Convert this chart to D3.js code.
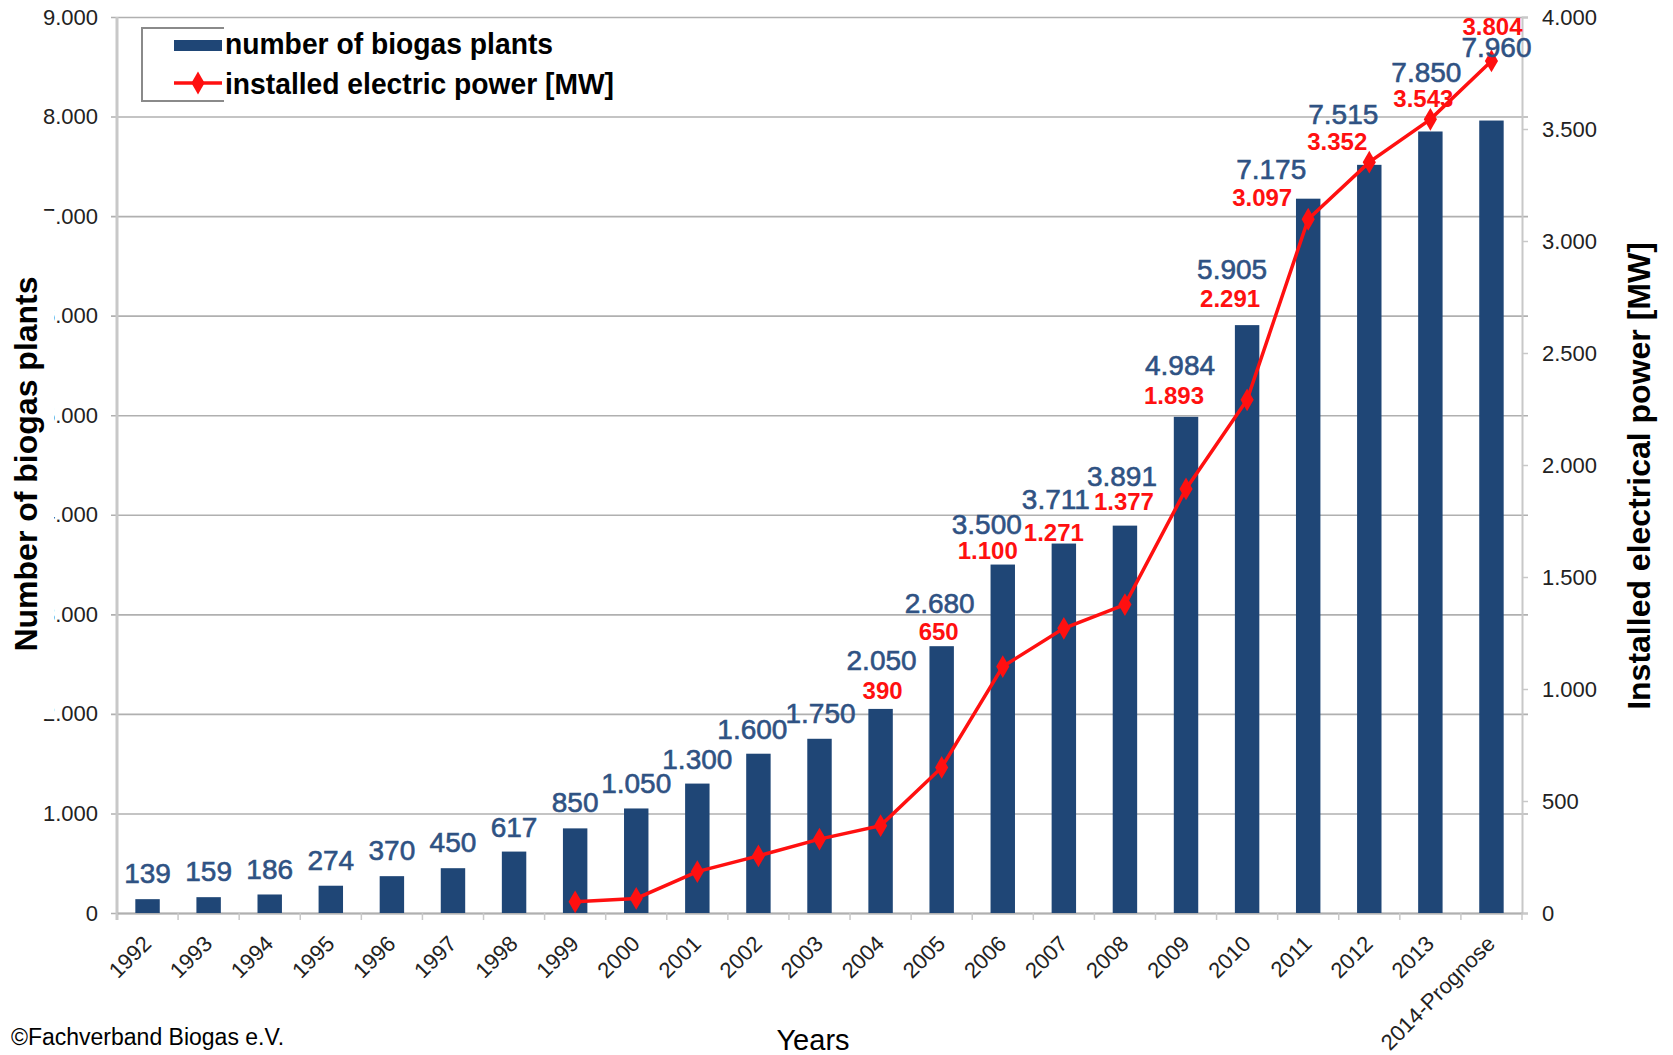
<!DOCTYPE html>
<html>
<head>
<meta charset="utf-8">
<script src="https://cdn.jsdelivr.net/npm/d3@7"></script>
<style>
  body { margin: 0; background: #fff; }
  svg text { font-family: "Liberation Sans", Arial, sans-serif; }
</style>
</head>
<body>
<div id="chart"></div>
<script>
// chart data
var years = ["1992", "1993", "1994", "1995", "1996", "1997", "1998", "1999", "2000", "2001", "2002",
  "2003", "2004", "2005", "2006", "2007", "2008", "2009", "2010", "2011", "2012", "2013", "2014-Prognose"];
var plants = [139, 159, 186, 274, 370, 450, 617, 850, 1050, 1300, 1600,
  1750, 2050, 2680, 3500, 3711, 3891, 4984, 5905, 7175, 7515, 7850, 7960];
var powerYears = ["1999", "2000", "2001", "2002", "2003", "2004", "2005", "2006", "2007", "2008",
  "2009", "2010", "2011", "2012", "2013", "2014-Prognose"];
var power = [50, 65, 185, 255, 330, 390, 650, 1100, 1271, 1377, 1893, 2291, 3097, 3352, 3543, 3804];
// only these power values carry a label
var powerLabelYears = ["2004", "2005", "2006", "2007", "2008", "2009", "2010", "2011", "2012", "2013", "2014-Prognose"];
var leftTicks = [0, 1000, 2000, 3000, 4000, 5000, 6000, 7000, 8000, 9000];
var rightTicks = [0, 500, 1000, 1500, 2000, 2500, 3000, 3500, 4000];

// hand placed label nudges [dx, dy above bar top], like the excel original
var plantLabelShift = [[0, 26], [0, 26], [0, 26], [0, 26], [0, 26], [0, 26], [0, 25], [0, 26], [0, 26], [0, 25], [-6, 25],
  [1, 26], [1, 49], [-2, 43], [-16, 41], [-8, 45], [-3, 50], [-6, 52], [-15, 56], [-37, 30], [-26, 51], [-4, 60], [5, 74]];
var powerLabelShift = [[2, 19], [-3, 15], [-15, 14], [-10, 11], [-1, 24], [-12, 21], [-17, 27], [-46, 1], [-32, 23], [-7, 33], [1, 94]];

var svgWidth = 1673;
var svgHeight = 1055;
var plot = { left: 117, right: 1522, top: 17, bottom: 913 };

var blue = "#1f4676";
var labelBlue = "#2f5283";
var red = "#ff1010";
var grid = "#b0b0b0";

var de = d3.formatLocale({ decimal: ",", thousands: ".", grouping: [3], currency: ["", " €"] });
var fmt = de.format(",d");

var svg = d3.select("#chart")
  .append("svg")
  .attr("width", svgWidth)
  .attr("height", svgHeight);

var xScale = d3.scaleBand()
  .domain(years)
  .range([plot.left, plot.right])
  .paddingInner(0.6)
  .paddingOuter(0.3);

var yLeft = d3.scaleLinear().domain([0, 9000]).range([plot.bottom, plot.top]);
var yRight = d3.scaleLinear().domain([0, 4000]).range([plot.bottom, plot.top]);

var cx = function(year) { return xScale(year) + xScale.bandwidth() / 2; };

// gridlines + left axis
var leftAxis = d3.axisLeft(yLeft)
  .tickValues(leftTicks)
  .tickSize(-(plot.right - plot.left + 6))
  .tickPadding(14)
  .tickFormat(fmt);

var gLeft = svg.append("g")
  .attr("transform", `translate(${plot.left}, 0)`)
  .call(leftAxis);
gLeft.select(".domain").remove();
gLeft.selectAll(".tick line")
  .attr("x1", -6)
  .attr("stroke", grid)
  .attr("stroke-width", 1.6);
gLeft.selectAll(".tick text")
  .attr("x", -19)
  .style("font-size", "22px")
  .attr("fill", "#222");

// left axis line
svg.append("line")
  .attr("x1", plot.left).attr("x2", plot.left)
  .attr("y1", plot.top).attr("y2", plot.bottom + 7)
  .attr("stroke", "#c8c8c8")
  .attr("stroke-width", 3);

// right axis
var rightAxis = d3.axisRight(yRight)
  .tickValues(rightTicks)
  .tickSize(6)
  .tickPadding(14)
  .tickFormat(fmt);

var gRight = svg.append("g")
  .attr("transform", `translate(${plot.right}, 0)`)
  .call(rightAxis);
gRight.select(".domain")
  .attr("stroke", "#c8c8c8")
  .attr("stroke-width", 2);
gRight.selectAll(".tick line").attr("stroke", "#c8c8c8").attr("stroke-width", 1.5);
gRight.selectAll(".tick text")
  .style("font-size", "22px")
  .attr("fill", "#222");

// bottom axis (ticks between the categories)
var bottomAxis = d3.axisBottom(xScale).tickSize(0).tickFormat("");
var gBottom = svg.append("g")
  .attr("transform", `translate(0, ${plot.bottom})`)
  .call(bottomAxis);
gBottom.select(".domain").attr("stroke", grid).attr("stroke-width", 2);

svg.append("g").selectAll("line")
  .data(years.concat(["end"]))
  .enter()
  .append("line")
  .attr("x1", function(d, i) { return plot.left + i * xScale.step(); })
  .attr("x2", function(d, i) { return plot.left + i * xScale.step(); })
  .attr("y1", plot.bottom)
  .attr("y2", plot.bottom + 7)
  .attr("stroke", "#c8c8c8")
  .attr("stroke-width", 1.5);

// year labels
svg.append("g").selectAll("text")
  .data(years)
  .enter()
  .append("text")
  .attr("transform", function(d) { return `translate(${cx(d) + 5}, ${plot.bottom + 32}) rotate(-45)`; })
  .attr("text-anchor", "end")
  .style("font-size", "22px")
  .attr("fill", "#222")
  .text(function(d) { return d; });

// bars
svg.append("g").selectAll("rect")
  .data(plants)
  .enter()
  .append("rect")
  .attr("x", function(d, i) { return xScale(years[i]); })
  .attr("y", function(d) { return yLeft(d); })
  .attr("width", xScale.bandwidth())
  .attr("height", function(d) { return plot.bottom - yLeft(d); })
  .attr("fill", blue);

// power line
var line = d3.line()
  .x(function(d, i) { return cx(powerYears[i]); })
  .y(function(d) { return yRight(d); });

svg.append("path")
  .datum(power)
  .attr("d", line)
  .attr("fill", "none")
  .attr("stroke", red)
  .attr("stroke-width", 3.5);

var diamond = d3.symbol().type(d3.symbolDiamond).size(150);
svg.append("g").selectAll("path")
  .data(power)
  .enter()
  .append("path")
  .attr("d", diamond)
  .attr("transform", function(d, i) { return `translate(${cx(powerYears[i])}, ${yRight(d)})`; })
  .attr("fill", red);

// plant labels
svg.append("g").selectAll("text")
  .data(plants)
  .enter()
  .append("text")
  .attr("x", function(d, i) { return cx(years[i]) + plantLabelShift[i][0]; })
  .attr("y", function(d, i) { return yLeft(d) - plantLabelShift[i][1]; })
  .attr("dy", "0.36em")
  .attr("text-anchor", "middle")
  .style("font-size", "28px")
  .attr("fill", labelBlue)
  .attr("stroke", labelBlue)
  .attr("stroke-width", 0.6)
  .text(function(d) { return fmt(d); });

// power labels, sitting over the bars
svg.append("g").selectAll("text")
  .data(powerLabelYears)
  .enter()
  .append("text")
  .attr("x", function(d, i) { return cx(d) + powerLabelShift[i][0]; })
  .attr("y", function(d, i) { return yLeft(plants[years.indexOf(d)]) - powerLabelShift[i][1]; })
  .attr("dy", "0.36em")
  .attr("text-anchor", "middle")
  .style("font-size", "24px")
  .style("font-weight", "bold")
  .attr("fill", red)
  .text(function(d) { return fmt(power[powerYears.indexOf(d)]); });

// legend
var legend = svg.append("g");
legend.append("rect")
  .attr("x", 224).attr("y", 28)
  .attr("width", 640).attr("height", 76)
  .attr("fill", "#fff");
legend.append("path")
  .attr("d", "M224,28 H142 V101 H224")
  .attr("fill", "none")
  .attr("stroke", "#8a8a8a")
  .attr("stroke-width", 2);
legend.append("rect")
  .attr("x", 174).attr("y", 40)
  .attr("width", 48).attr("height", 11)
  .attr("fill", blue);
legend.append("line")
  .attr("x1", 174).attr("x2", 222)
  .attr("y1", 83).attr("y2", 83)
  .attr("stroke", red)
  .attr("stroke-width", 3.5);
legend.append("path")
  .attr("d", diamond)
  .attr("transform", "translate(198, 83)")
  .attr("fill", red);
legend.append("text")
  .attr("x", 225).attr("y", 54)
  .style("font-size", "30px")
  .style("font-weight", "bold")
  .attr("textLength", 328)
  .attr("lengthAdjust", "spacingAndGlyphs")
  .text("number of biogas plants");
legend.append("text")
  .attr("x", 225).attr("y", 94)
  .style("font-size", "30px")
  .style("font-weight", "bold")
  .attr("textLength", 389)
  .attr("lengthAdjust", "spacingAndGlyphs")
  .text("installed electric power [MW]");

// y axis titles (the left one hides part of the tick labels, as in the original)
svg.append("rect")
  .attr("x", 0).attr("y", 211)
  .attr("width", 54).attr("height", 508)
  .attr("fill", "#fff");
svg.append("text")
  .attr("transform", "translate(37, 464) rotate(-90)")
  .attr("text-anchor", "middle")
  .style("font-size", "32px")
  .style("font-weight", "bold")
  .text("Number of biogas plants");

svg.append("text")
  .attr("transform", "translate(1650, 476) rotate(-90)")
  .attr("text-anchor", "middle")
  .style("font-size", "32px")
  .style("font-weight", "bold")
  .text("Installed electrical power [MW]");

svg.append("text")
  .attr("x", 813).attr("y", 1050)
  .attr("text-anchor", "middle")
  .style("font-size", "29px")
  .text("Years");

svg.append("text")
  .attr("x", 11).attr("y", 1045)
  .style("font-size", "23px")
  .text("©Fachverband Biogas e.V.");
</script>
</body>
</html>
